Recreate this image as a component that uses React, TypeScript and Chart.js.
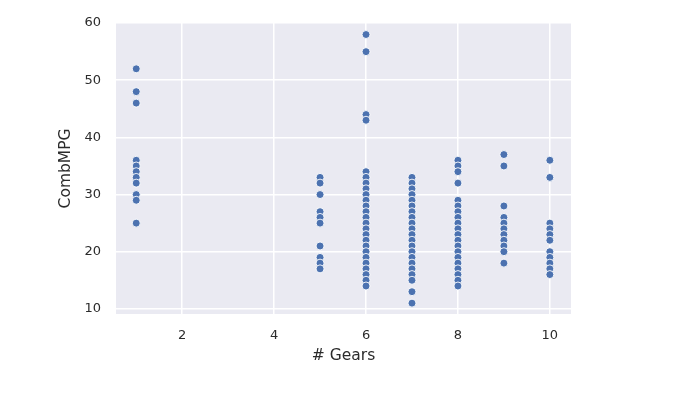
import React, { useEffect, useRef } from 'react'
import { Chart, registerables } from 'chart.js'

Chart.register(...registerables)

// gear counts and the CombMPG values read for each of them
const gearCounts = [1, 5, 6, 7, 8, 9, 10]
const mpgGears1 = [52, 48, 46, 36, 35, 34, 33, 32, 30, 29, 25]
const mpgGears5 = [33, 32, 30, 27, 26, 25, 21, 19, 18, 17]
const mpgGears6 = [58, 55, 44, 43, 34, 33, 32, 31, 30, 29, 28, 27, 26, 25, 24, 23, 22, 21, 20, 19, 18, 17, 16, 15, 14]
const mpgGears7 = [33, 32, 31, 30, 29, 28, 27, 26, 25, 24, 23, 22, 21, 20, 19, 18, 17, 16, 15, 13, 11]
const mpgGears8 = [36, 35, 34, 32, 29, 28, 27, 26, 25, 24, 23, 22, 21, 20, 19, 18, 17, 16, 15, 14]
const mpgGears9 = [37, 35, 28, 26, 25, 24, 23, 22, 21, 20, 18]
const mpgGears10 = [36, 33, 25, 24, 23, 22, 20, 19, 18, 17, 16]
const mpgByGear = [mpgGears1, mpgGears5, mpgGears6, mpgGears7, mpgGears8, mpgGears9, mpgGears10]

const xTicks = [2, 4, 6, 8, 10]
const yTicks = [10, 20, 30, 40, 50, 60]

const TEXT = '#2b2b2b'
const FONT = 'DejaVu Sans'

// seaborn darkgrid background behind the plot area
const plotBackground = {
  id: 'plotBackground',
  beforeDraw(chart: Chart) {
    const { ctx, chartArea } = chart
    if (!chartArea) return
    ctx.save()
    ctx.fillStyle = '#EAEAF2'
    ctx.fillRect(chartArea.left, chartArea.top, chartArea.width, chartArea.height)
    ctx.restore()
  },
}

const ScatterChart = () => {
  const canvasRef = useRef<HTMLCanvasElement>(null)

  useEffect(() => {
    if (!canvasRef.current) return

    const points: { x: number; y: number }[] = []
    gearCounts.forEach((g, i) => {
      mpgByGear[i].forEach((mpg) => points.push({ x: g, y: mpg }))
    })

    const chart = new Chart(canvasRef.current, {
      type: 'scatter',
      data: {
        datasets: [
          {
            label: 'CombMPG',
            data: points,
            backgroundColor: '#4C72B0',
            borderColor: '#ffffff',
            borderWidth: 0.9,
            pointRadius: 4,
          },
        ],
      },
      options: {
        animation: false,
        responsive: true,
        maintainAspectRatio: false,
        layout: { padding: { left: 0, top: 21, right: 127, bottom: 0 } },
        plugins: {
          legend: { display: false },
          tooltip: { enabled: false },
        },
        scales: {
          x: {
            type: 'linear',
            min: 0.56,
            max: 10.46,
            afterBuildTicks: (scale: any) => {
              scale.ticks = xTicks.map((v) => ({ value: v }))
            },
            afterFit: (scale: any) => {
              scale.height = 86
            },
            border: { display: false },
            grid: { color: '#ffffff', lineWidth: 1.5, drawTicks: false },
            ticks: {
              color: TEXT,
              padding: 13.5,
              font: { family: FONT, size: 13 },
            },
            title: {
              display: true,
              text: '# Gears',
              color: TEXT,
              padding: { top: 4, bottom: 35 },
              font: { family: FONT, size: 15.5 },
            },
          },
          y: {
            type: 'linear',
            min: 9.1,
            max: 60.05,
            afterBuildTicks: (scale: any) => {
              scale.ticks = yTicks.map((v) => ({ value: v }))
            },
            afterFit: (scale: any) => {
              scale.width = 116
            },
            border: { display: false },
            grid: { color: '#ffffff', lineWidth: 1.5, drawTicks: false },
            ticks: {
              color: TEXT,
              padding: 15,
              font: { family: FONT, size: 13 },
            },
            title: {
              display: true,
              text: 'CombMPG',
              color: TEXT,
              padding: { top: 57, bottom: 4 },
              font: { family: FONT, size: 15.5 },
            },
          },
        },
      },
      plugins: [plotBackground],
    })

    return () => {
      chart.destroy()
    }
  }, [])

  return (
    <div style={{ position: 'fixed', left: 0, top: 0, width: 698, height: 400, background: '#ffffff' }}>
      <canvas ref={canvasRef}></canvas>
    </div>
  )
}

export default function App() {
  return <ScatterChart />
}
